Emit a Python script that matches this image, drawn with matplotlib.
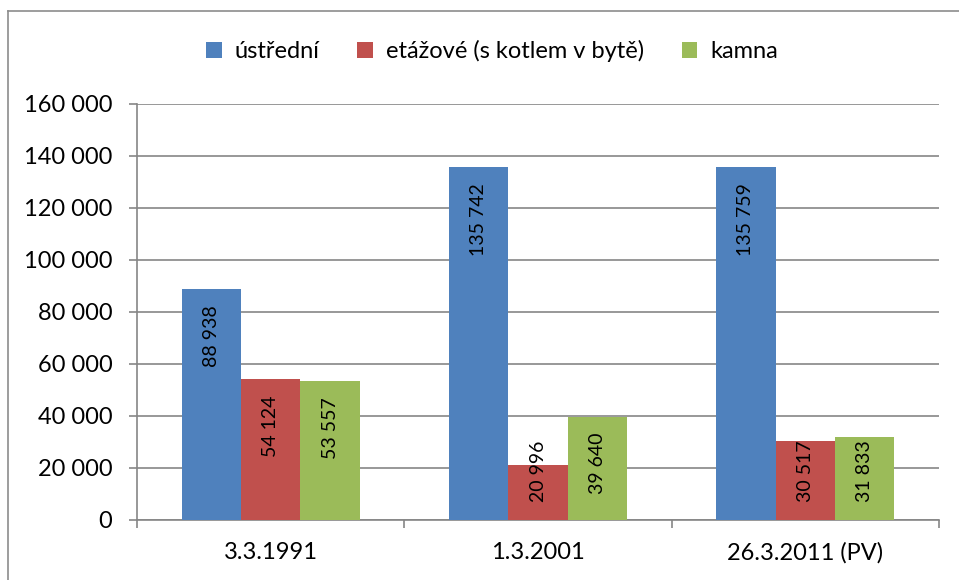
#!python3

## Import General Tools
import numpy as np
import matplotlib
matplotlib.use('Agg')
import matplotlib.pyplot as plt
from matplotlib.lines import Line2D


##-------------------------------------------------------------------------
## Data
##-------------------------------------------------------------------------
categories = ['3.3.1991', '1.3.2001', '26.3.2011 (PV)']
series_names = ['ústřední', 'etážové (s kotlem v bytě)', 'kamna']
ustredni = [88938, 135742, 135759]
etazove = [54124, 20996, 30517]
kamna = [53557, 39640, 31833]
yticks = [0, 20000, 40000, 60000, 80000, 100000, 120000, 140000, 160000]

colors = ['#4F81BD', '#C0504D', '#9BBB59']
grey = '#868686'


def fmt(v):
    return f'{v:,}'.replace(',', ' ')


##-------------------------------------------------------------------------
## Main Program
##-------------------------------------------------------------------------
def main():
    plt.rcParams['font.family'] = ['Lato', 'DejaVu Sans']
    W, H, dpi = 959, 580, 100
    fig = plt.figure(figsize=(W/dpi, H/dpi), dpi=dpi)
    ax = fig.add_axes([137/W, 60/H, (939-137)/W, (520-104)/H])

    x = np.arange(len(categories))
    width = 1/4.5
    texts = []
    for i, vals in enumerate([ustredni, etazove, kamna]):
        pos = x + (i-1)*width
        ax.bar(pos, vals, width, color=colors[i], label=series_names[i], zorder=3)
        for xp, v in zip(pos, vals):
            t = ax.annotate(fmt(v), xy=(xp, v), xytext=(0, -16*72/dpi),
                            textcoords='offset points', rotation=90,
                            ha='center', va='top', fontsize=14, zorder=4)
            texts.append(t)

    ax.set_xlim(-0.5, 2.5)
    ax.set_ylim(0, 160000)
    ax.set_yticks(yticks)
    ax.set_yticklabels([fmt(v) for v in yticks], fontsize=17)
    ax.yaxis.grid(True, color=grey, lw=1.2, zorder=0)
    ax.tick_params(axis='y', length=8*72/dpi, width=1.2, color=grey, pad=12)

    ax.set_xticks(x)
    ax.set_xticklabels(categories, fontsize=17)
    ax.set_xticks([-0.5, 0.5, 1.5, 2.5], minor=True)
    ax.tick_params(axis='x', which='major', length=0, pad=16)
    ax.tick_params(axis='x', which='minor', length=8*72/dpi, width=1.2, color=grey)

    for s in ['top', 'right']:
        ax.spines[s].set_visible(False)
    for s in ['left', 'bottom']:
        ax.spines[s].set_color(grey)
        ax.spines[s].set_linewidth(1.2)

    fig.legend(loc='center', bbox_to_anchor=(492/W, 1-51/H), ncol=3, frameon=False,
               fontsize=17, handlelength=0.65, handleheight=0.7,
               handletextpad=0.55, columnspacing=1.6)

    # chart border (only top/left visible in the picture)
    fig.add_artist(Line2D([7.5/W, 7.5/W], [0, 1-10.5/H], color='#8c8c8c', lw=1.2))
    fig.add_artist(Line2D([7.5/W, 1], [1-10.5/H, 1-10.5/H], color='#8c8c8c', lw=1.2))

    # keep labels of short bars clear of the axis, like the original
    fig.canvas.draw()
    ybase = ax.transData.transform((0, 0))[1]
    for t in texts:
        bb = t.get_window_extent()
        if bb.y0 < ybase + 18:
            dx, dy = t.get_position()
            t.set_position((dx, dy + (ybase + 18 - bb.y0)*72/dpi))

    fig.savefig('out.png', dpi=dpi)


if __name__ == '__main__':
    main()
